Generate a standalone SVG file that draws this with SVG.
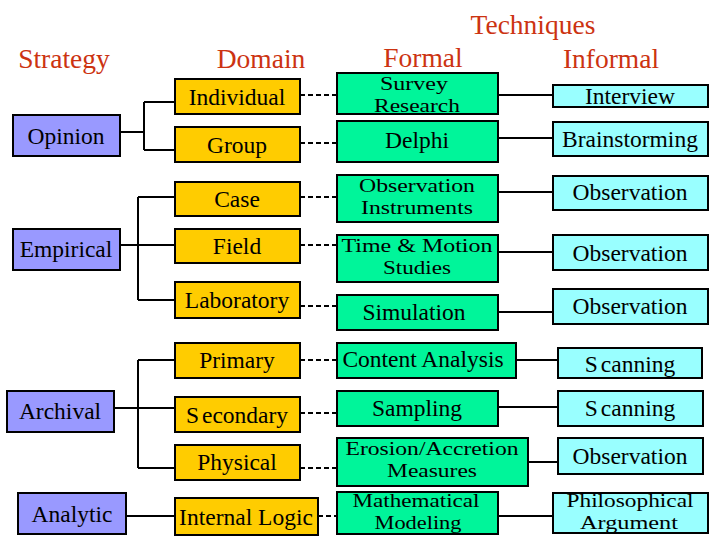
<svg xmlns="http://www.w3.org/2000/svg" width="720" height="540" viewBox="0 0 720 540">
<style>
text{font-family:"Liberation Serif","Tinos","Noto Serif","DejaVu Serif","FreeSerif","Times New Roman",Times,serif;font-size:23.5px;fill:#000;text-anchor:middle}
.hd{font-size:27.5px;fill:#cc3311}
.two{font-size:19px}
.strat{fill:#9999ff;stroke:#000;stroke-width:2}
.dom{fill:#ffcc00;stroke:#000;stroke-width:2}
.frm{fill:#00f59a;stroke:#000;stroke-width:2}
.inf{fill:#99ffff;stroke:#000;stroke-width:2}
.solid{stroke:#000;stroke-width:2;fill:none}
.dash{stroke:#000;stroke-width:2;fill:none;stroke-dasharray:5 3}
</style>
<rect width="720" height="540" fill="#fff"/>
<g id="headers">
<text class="hd" x="64" y="68">Strategy</text>
<text class="hd" x="261" y="68">Domain</text>
<text class="hd" x="423" y="66.5">Formal</text>
<text class="hd" x="611" y="68">Informal</text>
<text class="hd" x="533" y="34">Techniques</text>
</g>
<g id="connectors">
<path class="solid" d="M120 132H144M144 102V150M144 102H175M144 150H175"/>
<path class="solid" d="M120 245H175M138 197V300M138 197H175M138 300H175"/>
<path class="solid" d="M114 408H175M138 360V468M138 360H175M138 468H175"/>
<path class="solid" d="M126 516H175"/>
<path class="dash" d="M300 95H337M300 143H337M300 197H337M300 245H337M300 306H337M300 360H337M300 413H337M300 468H337M318 516H337"/>
<path class="solid" d="M498 95H553M498 138H553M498 192H553M498 252H553M498 312H553M516 360H558M498 407H558M528 462H558M498 516H553"/>
</g>
<g id="opinion"><rect class="strat" x="13" y="115" width="107" height="41"/><text x="66" y="144">Opinion</text></g>
<g id="empirical"><rect class="strat" x="13" y="229" width="107" height="41"/><text x="66" y="257">Empirical</text></g>
<g id="archival"><rect class="strat" x="7" y="391" width="107" height="41"/><text x="60" y="419">Archival</text></g>
<g id="analytic"><rect class="strat" x="18" y="493" width="108" height="41"/><text x="72" y="522">Analytic</text></g>

<g id="individual"><rect class="dom" x="175" y="79" width="125" height="35"/><text x="237" y="105">Individual</text></g>
<g id="group"><rect class="dom" x="175" y="127" width="125" height="35"/><text x="237" y="153">Group</text></g>
<g id="case"><rect class="dom" x="175" y="182" width="125" height="34"/><text x="237" y="207">Case</text></g>
<g id="field"><rect class="dom" x="175" y="229" width="125" height="34"/><text x="237" y="254">Field</text></g>
<g id="laboratory"><rect class="dom" x="175" y="282" width="125" height="36"/><text x="237" y="308">Laboratory</text></g>
<g id="primary"><rect class="dom" x="175" y="343" width="125" height="35"/><text x="237" y="368">Primary</text></g>
<g id="secondary"><rect class="dom" x="175" y="397" width="125" height="35"/><text x="237" y="423">S<tspan dx="3">econdary</tspan></text></g>
<g id="physical"><rect class="dom" x="175" y="445" width="125" height="35"/><text x="237" y="470">Physical</text></g>
<g id="internal-logic"><rect class="dom" x="175" y="498" width="143" height="37"/><text x="246" y="525">Internal Logic</text></g>

<g id="survey"><rect class="frm" x="337" y="73" width="161" height="41"/><text class="two" x="414" y="90" textLength="68" lengthAdjust="spacingAndGlyphs">Survey</text><text class="two" x="417" y="111.5" textLength="86" lengthAdjust="spacingAndGlyphs">Research</text></g>
<g id="delphi"><rect class="frm" x="337" y="121" width="161" height="41"/><text x="417" y="148">Delphi</text></g>
<g id="obs-instruments"><rect class="frm" x="337" y="175" width="161" height="47"/><text class="two" x="417" y="192" textLength="116" lengthAdjust="spacingAndGlyphs">Observation</text><text class="two" x="417" y="213.5" textLength="112" lengthAdjust="spacingAndGlyphs">Instruments</text></g>
<g id="time-motion"><rect class="frm" x="337" y="235" width="161" height="47"/><text class="two" x="417" y="252" textLength="151" lengthAdjust="spacingAndGlyphs">Time &amp; Motion</text><text class="two" x="417" y="273.5" textLength="68" lengthAdjust="spacingAndGlyphs">Studies</text></g>
<g id="simulation"><rect class="frm" x="337" y="295" width="161" height="35"/><text x="414" y="320">Simulation</text></g>
<g id="content-analysis"><rect class="frm" x="337" y="343" width="179" height="35"/><text x="423" y="367">Content Analysis</text></g>
<g id="sampling"><rect class="frm" x="337" y="391" width="161" height="35"/><text x="417" y="416">Sampling</text></g>
<g id="erosion"><rect class="frm" x="337" y="438" width="191" height="48"/><text class="two" x="432" y="455" textLength="173" lengthAdjust="spacingAndGlyphs">Erosion/Accretion</text><text class="two" x="432" y="476.5" textLength="90" lengthAdjust="spacingAndGlyphs">Measures</text></g>
<g id="math-modeling"><rect class="frm" x="337" y="492" width="161" height="42"/><text class="two" x="416" y="507" textLength="127" lengthAdjust="spacingAndGlyphs">Mathematical</text><text class="two" x="418" y="528.5" textLength="87" lengthAdjust="spacingAndGlyphs">Modeling</text></g>

<g id="interview"><rect class="inf" x="553" y="85" width="155" height="22"/><text x="630" y="104">Interview</text></g>
<g id="brainstorming"><rect class="inf" x="553" y="122" width="155" height="34"/><text x="630" y="147">Brainstorming</text></g>
<g id="observation1"><rect class="inf" x="553" y="176" width="155" height="34"/><text x="630" y="200">Observation</text></g>
<g id="observation2"><rect class="inf" x="553" y="235" width="155" height="35"/><text x="630" y="261">Observation</text></g>
<g id="observation3"><rect class="inf" x="553" y="289" width="155" height="35"/><text x="630" y="314">Observation</text></g>
<g id="scanning1"><rect class="inf" x="558" y="348" width="144" height="30"/><text x="630" y="372">S<tspan dx="3">canning</tspan></text></g>
<g id="scanning2"><rect class="inf" x="558" y="391" width="145" height="35"/><text x="630" y="416">S<tspan dx="3">canning</tspan></text></g>
<g id="observation4"><rect class="inf" x="558" y="438" width="145" height="36"/><text x="630" y="464">Observation</text></g>
<g id="philosophical"><rect class="inf" x="553" y="493" width="155" height="40"/><text class="two" x="630" y="507" textLength="127" lengthAdjust="spacingAndGlyphs">Philosophical</text><text class="two" x="629" y="528.5" textLength="98" lengthAdjust="spacingAndGlyphs">Argument</text></g>
</svg>
